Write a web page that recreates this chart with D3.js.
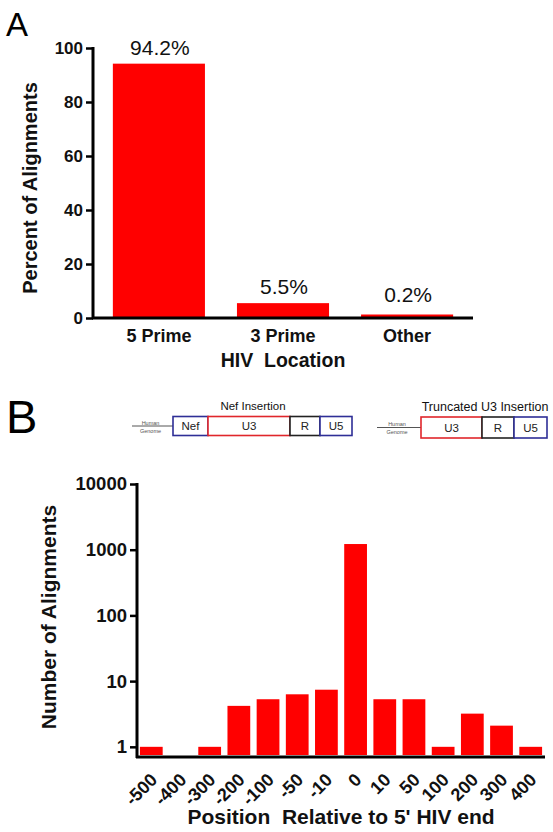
<!DOCTYPE html>
<html><head><meta charset="utf-8">
<script src="https://cdn.jsdelivr.net/npm/d3@7"></script>
<style>body{margin:0;background:#fff}svg{display:block}text{font-family:Arial,"Liberation Sans",sans-serif}</style>
</head><body>
<script>
// ---------- data ----------
const catsA = ["5 Prime", "3 Prime", "Other"];
const percentA = [94.2, 5.5, 0.2];
const labelsA = ["94.2%", "5.5%", "0.2%"];
const ticksA = [0, 20, 40, 60, 80, 100];

const catsB = ["-500","-400","-300","-200","-100","-50","-10","0","10","50","100","200","300","400"];
const countsB = [1, null, 1, 4.2, 5.3, 6.3, 7.4, 1220, 5.3, 5.3, 1, 3.2, 2.1, 1];
const ticksB = [1, 10, 100, 1000, 10000];

const nefSegs = ["Nef", "U3", "R", "U5"];
const truncSegs = ["U3", "R", "U5"];

const W = 553, H = 832;
const svg = d3.select("body").append("svg").attr("width", W).attr("height", H);
const RED = "#ff0000";

// ---------- Panel A ----------
svg.append("text").attr("x", 6).attr("y", 36).attr("font-size", 33).text("A");

const xA = d3.scaleBand().domain(catsA).range([93, 473]).paddingInner(0.258).paddingOuter(0.16);
const yA = d3.scaleLinear().domain([0, 100]).range([318, 48]);

const gA = svg.append("g");
gA.selectAll("rect.a").data(catsA).join("rect")
  .attr("x", d => xA(d)).attr("width", xA.bandwidth())
  .attr("y", (d, i) => yA(0) - Math.max(3.5, yA(0) - yA(percentA[i])))
  .attr("height", (d, i) => Math.max(3.5, yA(0) - yA(percentA[i])))
  .attr("fill", RED);
gA.selectAll("text.pl").data(catsA).join("text")
  .attr("x", d => xA(d) + xA.bandwidth() / 2 + 1)
  .attr("y", (d, i) => yA(percentA[i]) - 9 - (i === 2 ? 6 : 0))
  .attr("text-anchor", "middle").attr("font-size", 21).attr("fill", "#111")
  .text((d, i) => labelsA[i]);

const axA = gA.append("g").attr("transform", "translate(93,0)")
  .call(d3.axisLeft(yA).tickValues(ticksA).tickSize(7).tickPadding(3));
axA.select(".domain").attr("stroke-width", 3).attr("d", "M0," + (yA(100) - 1) + "V" + yA(0));
axA.selectAll(".tick line").attr("stroke-width", 2.5);
axA.selectAll(".tick text").attr("font-size", 17).attr("font-weight", "bold").attr("fill", "#111");
// x baseline
const axAx = gA.append("g").attr("transform", "translate(0,318)")
  .call(d3.axisBottom(xA).tickSize(0).tickPadding(11));
axAx.select(".domain").attr("stroke-width", 3).attr("d", "M92,0H473");
axAx.selectAll(".tick text").attr("font-size", 18).attr("font-weight", "bold").attr("fill", "#111");
gA.append("text").attr("x", xA("3 Prime") + xA.bandwidth() / 2).attr("y", 367)
  .attr("text-anchor", "middle").attr("font-size", 19.5).attr("font-weight", "bold").attr("fill", "#111")
  .style("white-space", "pre").text("HIV  Location");
gA.append("text").attr("transform", "translate(37," + ((yA(0) + yA(100)) / 2 + 5) + ") rotate(-90)")
  .attr("text-anchor", "middle").attr("font-size", 20).attr("font-weight", "bold").attr("fill", "#111")
  .text("Percent of Alignments");

// ---------- Panel B ----------
svg.append("text").attr("x", 6).attr("y", 433).attr("font-family", "'Open Sans','DejaVu Sans',sans-serif")
  .attr("font-size", 47).text("B");

// schematic diagrams
const BLUE = "#2e2e96", DRED = "#e0262b", BLK = "#222";
function diagram(title, titleX, titleY, titleSize, x0, edges, segs, colors, y0, y1, gx0) {
  const g = svg.append("g");
  g.append("text").attr("x", titleX).attr("y", titleY).attr("text-anchor", "middle")
    .attr("font-size", titleSize).attr("fill", "#111").text(title);
  const ym = (y0 + y1) / 2;
  g.append("line").attr("x1", gx0).attr("x2", x0).attr("y1", ym).attr("y2", ym).attr("stroke", "#555").attr("stroke-width", 1);
  g.append("text").attr("x", (gx0 + x0) / 2 - 2).attr("y", ym - 1.5).attr("text-anchor", "middle").attr("font-size", 5.5).attr("fill", "#555").text("Human");
  g.append("text").attr("x", (gx0 + x0) / 2 - 2).attr("y", ym + 6.5).attr("text-anchor", "middle").attr("font-size", 5.5).attr("fill", "#555").text("Genome");
  segs.forEach((s, i) => {
    const a = edges[i], b = edges[i + 1];
    g.append("rect").attr("x", a).attr("y", y0).attr("width", b - a).attr("height", y1 - y0)
      .attr("fill", "#fff").attr("stroke", colors[i]).attr("stroke-width", 1.6);
    g.append("text").attr("x", (a + b) / 2).attr("y", ym + 4).attr("text-anchor", "middle")
      .attr("font-size", 11.5).attr("fill", "#222").text(s);
  });
}
diagram("Nef Insertion", 253, 410, 11.5, 173, [173, 208, 290, 320, 352], nefSegs, [BLUE, DRED, BLK, BLUE], 416.5, 435.5, 132);
diagram("Truncated U3 Insertion", 485, 411, 12.5, 421, [421, 482, 514, 547], truncSegs, [DRED, BLK, BLUE], 417, 438, 377);

const xB = d3.scaleBand().domain(catsB).range([137, 545]).paddingInner(0.22).paddingOuter(0.1);
const yB = d3.scaleLog().domain([0.7, 10000]).range([757, 484]);

const gB = svg.append("g");
gB.selectAll("rect.b").data(catsB.map((c, i) => ({c, v: countsB[i]})).filter(d => d.v != null)).join("rect")
  .attr("x", d => xB(d.c)).attr("width", xB.bandwidth())
  .attr("y", d => yB(d.v)).attr("height", d => yB(0.7) - 2 - yB(d.v))
  .attr("fill", RED);

const axB = gB.append("g").attr("transform", "translate(137,0)")
  .call(d3.axisLeft(yB).tickValues(ticksB).tickFormat(d3.format("d")).tickSize(7).tickPadding(3));
axB.select(".domain").attr("stroke-width", 3).attr("d", "M0,483V758");
axB.selectAll(".tick line").attr("stroke-width", 2.5);
axB.selectAll(".tick text").attr("font-size", 18.5).attr("font-weight", "bold").attr("fill", "#111");

const axBx = gB.append("g").attr("transform", "translate(0,757)")
  .call(d3.axisBottom(xB).tickSize(0));
axBx.select(".domain").attr("stroke-width", 3).attr("d", "M136,0H545");
axBx.selectAll(".tick text").attr("font-size", 18).attr("font-weight", "bold").attr("fill", "#111")
  .attr("text-anchor", "end").attr("dy", null).attr("y", null)
  .attr("transform", "translate(7,24) rotate(-45)");

gB.append("text").attr("x", 341).attr("y", 824).attr("text-anchor", "middle")
  .attr("font-size", 21).attr("font-weight", "bold").attr("fill", "#111")
  .style("white-space", "pre").text("Position  Relative to 5' HIV end");
gB.append("text").attr("transform", "translate(56," + 617 + ") rotate(-90)")
  .attr("text-anchor", "middle").attr("font-size", 21).attr("font-weight", "bold").attr("fill", "#111")
  .text("Number of Alignments");
</script>
</body></html>
